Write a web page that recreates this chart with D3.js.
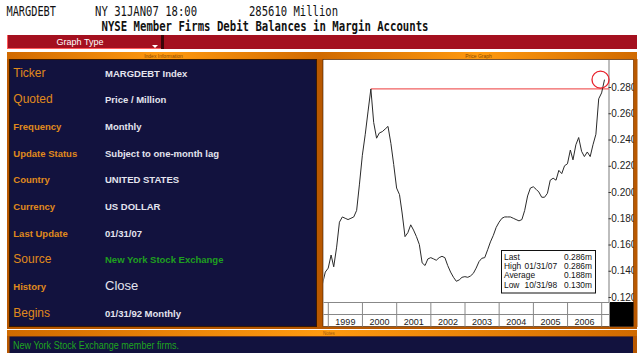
<!DOCTYPE html>
<html><head><meta charset="utf-8">
<script src="https://cdn.jsdelivr.net/npm/d3@7"></script>
<style>html,body{margin:0;padding:0;background:#fff;}svg{display:block;}</style>
</head><body>
<script>
// ---- data ----
const startMonth = [1998, 9]; // Oct 1998 (month-end values)
const marginDebt = [
  0.130,0.139,0.142,0.152,0.143,0.158,0.177,0.181,0.180,0.179,0.180,0.181,
  0.186,0.206,0.228,0.244,0.261,0.2785,0.253,0.241,0.245,0.246,0.248,0.250,
  0.237,0.221,0.203,0.198,0.184,0.166,0.169,0.175,0.171,0.166,0.160,0.146,
  0.144,0.149,0.150,0.149,0.148,0.150,0.151,0.150,0.144,0.139,0.135,0.132,
  0.133,0.135,0.1355,0.135,0.136,0.138,0.142,0.147,0.1495,0.150,0.156,0.162,
  0.167,0.173,0.177,0.180,0.181,0.181,0.181,0.180,0.179,0.178,0.179,0.186,
  0.197,0.203,0.204,0.202,0.200,0.196,0.196,0.199,0.209,0.2105,0.209,0.2165,
  0.214,0.220,0.2215,0.232,0.2245,0.236,0.2415,0.231,0.227,0.2305,0.227,0.236,
  0.244,0.271,0.2755,0.2856
];
const yTicks = [0.12,0.14,0.16,0.18,0.20,0.22,0.24,0.26,0.28];
const years = [1999,2000,2001,2002,2003,2004,2005,2006];
const legendRows = [["Last","","0.286m"],["High","01/31/07","0.286m"],["Average","","0.188m"],["Low","10/31/98","0.130m"]];
const infoLabels = ["Ticker","Quoted","Frequency","Update Status","Country","Currency","Last Update","Source","History","Begins"];
const infoValues = ["MARGDEBT Index","Price / Million","Monthly","Subject to one-month lag","UNITED STATES","US DOLLAR","01/31/07","New York Stock Exchange","Close","01/31/92 Monthly"];
const labelSizes = [12,12,9.5,9.5,9.5,9.5,9.5,12,9.5,12];
const valueSizes = [9.5,9.5,9.5,9.5,9.5,9.5,9.5,9.5,13,9.5];
const headerTexts = ["MARGDEBT","NY 31JAN07 18:00","285610 Million"];
const titleText = "NYSE Member Firms Debit Balances in Margin Accounts";
const notesText = "New York Stock Exchange member firms.";

const data = marginDebt.map((v,i)=>({date:new Date(startMonth[0], startMonth[1]+i+1, 0), value:v}));

const W=640,H=353;
const svg=d3.select("body").append("svg").attr("width",W).attr("height",H);
const defs=svg.append("defs");
const og=defs.append("linearGradient").attr("id","og").attr("x1",0).attr("x2",1);
og.append("stop").attr("offset","0").attr("stop-color","#d06a00");
og.append("stop").attr("offset","0.5").attr("stop-color","#ff9a10");
og.append("stop").attr("offset","1").attr("stop-color","#d06a00");

svg.append("rect").attr("width",W).attr("height",H).attr("fill","#fff");

// header texts
const mono="'DejaVu Sans Mono', monospace";
const hx=[[6.5,49.5],[95,102],[249,89]];
headerTexts.forEach((t,i)=>svg.append("text").attr("x",hx[i][0]).attr("y",15.5)
  .attr("font-family",mono).attr("font-size",14).attr("fill","#111")
  .attr("textLength",hx[i][1]).attr("lengthAdjust","spacingAndGlyphs").text(t));
svg.append("text").attr("x",101.5).attr("y",30.5).attr("font-family",mono).attr("font-weight","bold")
  .attr("font-size",13.5).attr("fill","#111").attr("textLength",327).attr("lengthAdjust","spacingAndGlyphs").text(titleText);

// red bar
svg.append("rect").attr("x",7).attr("y",35).attr("width",630).attr("height",14).attr("fill","#a4101f");
svg.append("rect").attr("x",161).attr("y",35).attr("width",3).attr("height",14).attr("fill","#3a0508");
svg.append("line").attr("x1",7).attr("x2",161).attr("y1",48.5).attr("y2",48.5).attr("stroke","#ff5a5a");
svg.append("line").attr("x1",7.5).attr("x2",7.5).attr("y1",35).attr("y2",49).attr("stroke","#ff5a5a");
svg.append("text").attr("x",80).attr("y",45).attr("text-anchor","middle").attr("font-family","Arial, 'Liberation Sans', sans-serif")
  .attr("font-size",9).attr("fill","#fff").text("Graph Type");
svg.append("path").attr("d","M152,45 L158,45 L155,48 Z").attr("fill","#fff");

// panels
function panel(x,w,label){
  svg.append("rect").attr("x",x).attr("y",52).attr("width",w).attr("height",277).attr("fill","#b85800");
  svg.append("rect").attr("x",x).attr("y",52).attr("width",w).attr("height",7).attr("fill","url(#og)");
  svg.append("text").attr("x",x+w/2).attr("y",57.5).attr("text-anchor","middle").attr("font-family","Arial, sans-serif")
    .attr("font-size",5).attr("fill","#8a4a00").text(label);
}
panel(7,313,"Index Information");
panel(320,317,"Price Graph");
svg.append("rect").attr("x",9.5).attr("y",59.5).attr("width",307).attr("height",267).attr("fill","#12123e").attr("stroke","#3a1a00");
svg.append("rect").attr("x",323).attr("y",59.5).attr("width",310.5).attr("height",267).attr("fill","#fff").attr("stroke","#3a1a00").attr("stroke-width",0.6);

// notes strip
svg.append("rect").attr("x",7).attr("y",330).attr("width",630).attr("height",6).attr("fill","url(#og)");
svg.append("rect").attr("x",7).attr("y",336).attr("width",630).attr("height",17).attr("fill","#b85800");
svg.append("rect").attr("x",9.5).attr("y",336.5).attr("width",623.5).attr("height",17).attr("fill","#12123e");
svg.append("text").attr("x",323).attr("y",334.5).attr("font-family","Arial, sans-serif").attr("font-size",4.5).attr("fill","#a05a10").text("Notes");
svg.append("text").attr("x",13).attr("y",348.5).attr("font-family","Arial, 'Liberation Sans', sans-serif")
  .attr("font-size",10.5).attr("fill","#1fa51f").attr("textLength",166).attr("lengthAdjust","spacingAndGlyphs").text(notesText);

// info text
const sans="Arial, 'Liberation Sans', sans-serif";
const rowY=i=>76.7+i*26.67;
const lab=svg.append("g");
infoLabels.forEach((t,i)=>lab.append("text").attr("x",13.3).attr("y",rowY(i)).attr("font-family",sans)
  .attr("font-size",labelSizes[i]).attr("font-weight",labelSizes[i]<10?"bold":"normal").attr("fill","#e08a1c").text(t));
infoValues.forEach((t,i)=>lab.append("text").attr("x",105).attr("y",rowY(i)).attr("font-family",sans)
  .attr("font-size",valueSizes[i]).attr("font-weight",valueSizes[i]<10?"bold":"normal")
  .attr("fill",i===7?"#1f9f1f":"#e4e4ee").text(t));

// chart
const plot={l:323.5,r:609,t:60,b:302};
const x=d3.scaleTime().domain([new Date(1999,0,1),new Date(2007,0,1)]).range([328.3,601.7]);
const y=d3.scaleLinear().domain([0.12,0.28]).range([297,87]);
defs.append("clipPath").attr("id","pc").append("rect").attr("x",plot.l).attr("y",plot.t).attr("width",plot.r-plot.l).attr("height",plot.b-plot.t);

// right axis
svg.append("line").attr("x1",609).attr("x2",609).attr("y1",60).attr("y2",302).attr("stroke","#bdbdbd").attr("stroke-width",2);
const ax=svg.append("g").attr("transform","translate(608.5,0)").call(d3.axisRight(y).tickValues(yTicks).tickFormat(d3.format(".3f")).tickSize(2.5).tickPadding(0.3));
ax.select(".domain").remove();
ax.selectAll("text").attr("font-family",sans).attr("font-size",10).attr("fill","#222");
ax.selectAll("line").attr("stroke","#333");
svg.append("rect").attr("x",633.5).attr("y",59).attr("width",4).attr("height",268).attr("fill","#b85800");

// year grid
svg.append("rect").attr("x",610).attr("y",302).attr("width",23.5).attr("height",24.5).attr("fill","#000");
const gy=svg.append("g").attr("stroke","#888").attr("stroke-width",1);
gy.append("line").attr("x1",plot.l).attr("x2",609.5).attr("y1",302.5).attr("y2",302.5);
gy.append("line").attr("x1",plot.l).attr("x2",609.5).attr("y1",314.5).attr("y2",314.5);
const bounds=years.concat([2007]).map(yr=>new Date(yr,0,1));
gy.selectAll(".v").data(bounds).join("line").attr("x1",d=>x(d)).attr("x2",d=>x(d)).attr("y1",302.5).attr("y2",326.5);
gy.append("line").attr("x1",609.5).attr("x2",609.5).attr("y1",302.5).attr("y2",326.5);
svg.selectAll(".yl").data(years).join("text").attr("x",d=>(x(new Date(d,0,1))+x(new Date(d+1,0,1)))/2).attr("y",324.5)
  .attr("text-anchor","middle").attr("font-family",sans).attr("font-size",9).attr("fill","#222").text(d=>d);

// prior peak line
const pk=d3.maxIndex(marginDebt.slice(0,90));
svg.append("line").attr("x1",x(data[pk].date)).attr("x2",609).attr("y1",y(data[pk].value)).attr("y2",y(data[pk].value))
  .attr("stroke","#f06060").attr("stroke-width",1.2);

// series line
svg.append("path").datum(data).attr("clip-path","url(#pc)").attr("fill","none").attr("stroke","#2a2a2a").attr("stroke-width",1)
  .attr("d",d3.line().x(d=>x(d.date)).y(d=>y(d.value)));

// last point circle
const last=data[data.length-1];
svg.append("circle").attr("cx",x(last.date)-4).attr("cy",y(last.value)).attr("r",8.5).attr("fill","none").attr("stroke","#e8202a").attr("stroke-width",1.3);

// legend box
const lg=svg.append("g");
lg.append("rect").attr("x",501.5).attr("y",250.5).attr("width",94).attr("height",42.5).attr("fill","#fff").attr("stroke","#111");
legendRows.forEach((r,i)=>{
  const yy=259.5+i*9.4;
  lg.append("text").attr("x",504).attr("y",yy).attr("font-family",sans).attr("font-size",8.4).attr("fill","#111").text(r[0]);
  if(r[1]) lg.append("text").attr("x",524.5).attr("y",yy).attr("font-family",sans).attr("font-size",8.4).attr("fill","#111").text(r[1]);
  lg.append("text").attr("x",592).attr("y",yy).attr("text-anchor","end").attr("font-family",sans).attr("font-size",8.4).attr("fill","#111").text(r[2]);
});
</script>
</body></html>
